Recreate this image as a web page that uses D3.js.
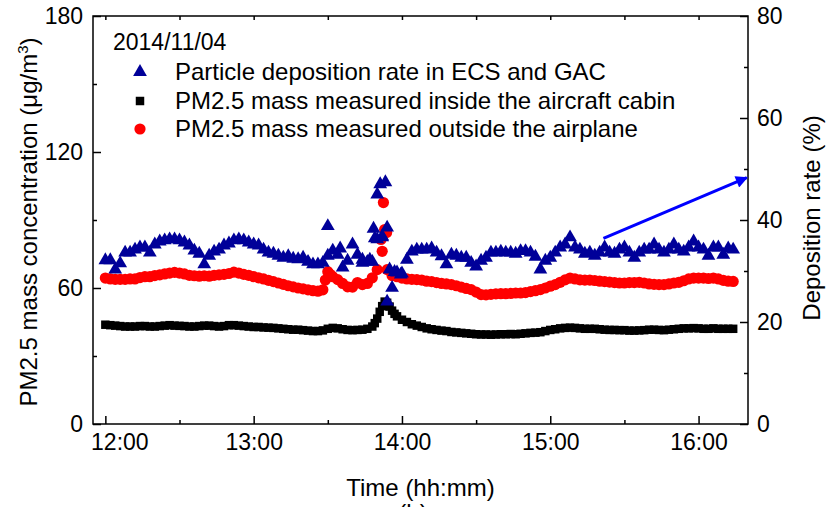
<html>
<head>
<title>PM2.5 deposition</title>
<script src="https://d3js.org/d3.v7.min.js"></script>
<style>
body { margin: 0; background: #fff; }
svg { font-family: 'Liberation Sans', Arial, sans-serif; }
</style>
</head>
<body>
<svg id="chart" width="827" height="507"></svg>
<script type="text/javascript">
// readings every 2 minutes starting 12:00
var stepMinute = 2;
var depositionRate = [32.1,32.1,30.3,31.5,33.6,33.6,34.2,34.6,34.6,33.6,
	35.2,35.8,36.0,36.2,36.2,36.0,35.6,35.0,34.0,33.4,
	31.3,33.0,33.8,34.2,35.0,35.4,36.0,36.2,36.0,35.6,
	35.2,35.0,34.2,33.6,33.4,33.0,32.6,32.9,32.4,32.3,
	32.6,31.8,31.3,31.3,31.6,33.0,34.0,33.2,30.7,32.0,
	35.2,33.2,31.6,31.8,31.8,36.2,36.6,24.0,26.7,29.7,
	29.5,32.2,33.8,34.2,34.2,34.2,34.4,33.6,32.9,31.3,
	33.2,33.0,32.6,32.6,31.6,30.9,32.0,32.6,33.6,33.6,
	33.8,33.6,33.6,33.4,33.9,33.9,33.6,32.8,30.3,32.0,
	32.6,33.6,34.6,35.2,36.6,34.6,34.2,33.4,33.6,33.0,
	33.6,34.6,33.6,33.4,34.2,34.6,33.6,32.6,33.6,34.2,
	34.2,35.2,34.2,33.6,34.2,35.2,34.2,33.8,34.6,35.8,
	34.6,34.2,33.0,34.6,34.6,33.2,34.4,34.2];
var pmInside = [43.8,43.6,43.4,43.2,43.0,43.0,43.0,43.2,43.2,43.0,
	43.0,43.2,43.4,43.6,43.4,43.3,43.2,43.0,43.0,43.2,
	43.4,43.4,43.2,43.0,43.2,43.6,43.6,43.4,43.2,43.0,
	42.8,42.8,42.6,42.5,42.4,42.2,42.0,41.8,41.6,41.6,
	41.4,41.2,41.0,41.0,41.3,42.0,42.4,42.2,41.8,41.5,
	41.4,41.5,41.6,42.0,43.0,46.5,52.0,53.5,50.0,47.5,
	46.0,45.0,44.0,43.4,42.8,42.2,41.8,41.5,41.2,41.0,
	40.6,40.4,40.2,40.0,39.8,39.6,39.5,39.5,39.4,39.5,
	39.6,39.6,39.7,39.6,39.8,40.0,40.2,40.3,40.5,41.0,
	41.5,41.8,42.2,42.4,42.5,42.4,42.2,42.0,42.0,42.0,
	41.8,41.6,41.5,41.5,41.4,41.4,41.2,41.2,41.3,41.4,
	41.6,41.6,41.5,41.4,41.6,41.8,42.0,42.2,42.2,42.3,
	42.2,42.0,42.0,42.2,42.0,42.0,42.0,42.0];
var pmOutside = [64.4,64.0,63.8,63.8,63.8,64.0,64.0,64.6,65.0,65.0,
	65.5,65.8,66.2,66.6,66.9,66.6,66.2,65.6,65.4,65.2,
	65.4,65.2,65.6,65.8,66.0,66.4,67.0,66.6,66.0,65.6,
	65.0,64.5,64.0,63.4,62.8,62.2,61.6,61.0,60.5,60.0,
	59.6,59.2,58.8,58.6,59.2,67.2,65.0,63.7,62.0,60.5,
	60.4,62.4,61.5,62.0,64.5,68.1,76.2,68.1,65.5,65.0,
	64.4,64.0,63.8,63.7,63.5,63.0,62.8,62.4,62.0,61.8,
	61.5,61.0,60.4,59.8,59.3,58.2,57.1,57.0,57.2,57.4,
	57.5,57.5,57.6,57.8,57.8,58.0,58.4,58.8,59.3,60.0,
	60.8,61.5,62.5,63.6,64.4,64.0,63.6,63.5,63.5,63.3,
	63.0,62.8,62.6,62.4,62.2,62.2,62.4,62.4,62.5,62.2,
	61.8,61.6,61.5,61.5,61.8,62.2,62.5,63.2,64.0,64.4,
	64.4,64.4,64.2,64.4,64.0,63.4,63.0,62.9];

// extra scattered readings around the 13:50 spike, [minute, value]
var depositionExtra = [[90,38.8],[95,34.4],[104,32.2],[107,32.2],[108.5,38.3],[109,36.4],
	[110,45.0],[111.2,47.0],[113.3,47.4],[112,36.8],[114,38.5],[115,30.3],[117,29.8],[119.5,29.3]];
var insideExtra = [[109,44.5],[111,49.5],[113,54.0],[115,51.8],[117,48.6]];
var outsideExtra = [[89,63.5],[91,66.0],[111.5,81.4],[112.5,97.7],[113,85.8],[113.8,84.5]];

var xTicks = [0, 60, 120, 180, 240];
var xMinor = [30, 90, 150, 210];
var xTickLabels = ["12:00", "13:00", "14:00", "15:00", "16:00"];
var leftTicks = [0, 60, 120, 180];
var leftMinor = [30, 90, 150];
var rightTicks = [0, 20, 40, 60, 80];
var rightMinor = [10, 30, 50, 70];
var arrowFrom = [201.5, 36.4];
var arrowTo = [259.5, 48.3];

var legendNames = ["Particle deposition rate in ECS and GAC",
	"PM2.5 mass measured inside the aircraft cabin",
	"PM2.5 mass measured outside the airplane"];

var plotLeft = 93, plotRight = 748, plotTop = 16, plotBottom = 424;

var svg = d3.select("#chart");

var x = d3.scaleLinear().domain([-5, 260]).range([plotLeft, plotRight]);
var yL = d3.scaleLinear().domain([0, 180]).range([plotBottom, plotTop]);
var yR = d3.scaleLinear().domain([0, 80]).range([plotBottom, plotTop]);

function toPoints(arr, extra){
	var pts = arr.map(function(v, i){ return [i * stepMinute, v]; });
	return pts.concat(extra);
}
function noDomain(g){ g.select(".domain").remove(); }

// axes, ticks pointing inside
var fmt = function(d){ return xTickLabels[xTicks.indexOf(d)]; };
svg.append("g").attr("transform", "translate(0," + plotBottom + ")")
	.call(d3.axisBottom(x).tickValues(xTicks).tickFormat(fmt).tickSize(-8).tickPadding(10)).call(noDomain);
svg.append("g").attr("transform", "translate(0," + plotBottom + ")")
	.call(d3.axisBottom(x).tickValues(xMinor).tickFormat("").tickSize(-4)).call(noDomain);
svg.append("g").attr("transform", "translate(0," + plotTop + ")")
	.call(d3.axisTop(x).tickValues(xTicks.concat(xMinor)).tickFormat("").tickSize(-4)).call(noDomain);
svg.append("g").attr("transform", "translate(" + plotLeft + ",0)")
	.call(d3.axisLeft(yL).tickValues(leftTicks).tickSize(-8).tickPadding(10)).call(noDomain);
svg.append("g").attr("transform", "translate(" + plotLeft + ",0)")
	.call(d3.axisLeft(yL).tickValues(leftMinor).tickFormat("").tickSize(-4)).call(noDomain);
svg.append("g").attr("transform", "translate(" + plotRight + ",0)")
	.call(d3.axisRight(yR).tickValues(rightTicks).tickSize(-8).tickPadding(9)).call(noDomain);
svg.append("g").attr("transform", "translate(" + plotRight + ",0)")
	.call(d3.axisRight(yR).tickValues(rightMinor).tickFormat("").tickSize(-4)).call(noDomain);

svg.selectAll(".tick line").attr("stroke", "#000").attr("stroke-width", 1.5);
svg.selectAll(".tick text").attr("fill", "#000").style("font-family", "'Liberation Sans', Arial, sans-serif").style("font-size", "23px");
// first time label sits a bit right of its tick
svg.selectAll(".tick text").filter(function(){ return this.textContent === "12:00"; }).attr("dx", 14);

svg.append("rect").attr("x", plotLeft).attr("y", plotTop)
	.attr("width", plotRight - plotLeft).attr("height", plotBottom - plotTop)
	.attr("fill", "none").attr("stroke", "#000").attr("stroke-width", 1.5);

// marks
var sq = d3.symbol().type(d3.symbolSquare).size(72);
var tri = d3.symbol().type(d3.symbolTriangle).size(82);

svg.append("g").selectAll("path").data(toPoints(pmInside, insideExtra)).enter().append("path")
	.attr("d", sq)
	.attr("transform", function(d){ return "translate(" + x(d[0]) + "," + yL(d[1]) + ")"; })
	.attr("fill", "#000");

svg.append("g").selectAll("circle").data(toPoints(pmOutside, outsideExtra)).enter().append("circle")
	.attr("cx", function(d){ return x(d[0]); })
	.attr("cy", function(d){ return yL(d[1]); })
	.attr("r", 5.6)
	.attr("fill", "#ff0000");

svg.append("g").selectAll("path").data(toPoints(depositionRate, depositionExtra)).enter().append("path")
	.attr("d", tri)
	.attr("transform", function(d){ return "translate(" + x(d[0]) + "," + yR(d[1]) + ")"; })
	.attr("fill", "#000099");

// arrow toward right axis
svg.append("defs").append("marker").attr("id", "head")
	.attr("viewBox", "0 0 10 10").attr("refX", 9).attr("refY", 5)
	.attr("markerWidth", 5).attr("markerHeight", 4).attr("orient", "auto")
	.append("path").attr("d", "M0,0L10,5L0,10z").attr("fill", "#0000ff");
svg.append("line")
	.attr("x1", x(arrowFrom[0])).attr("y1", yR(arrowFrom[1]))
	.attr("x2", x(arrowTo[0])).attr("y2", yR(arrowTo[1]))
	.attr("stroke", "#0000ff").attr("stroke-width", 3)
	.attr("marker-end", "url(#head)");

// legend
svg.append("text").attr("x", 113).attr("y", 50).style("font-size", "23px").text("2014/11/04");
var legY = [72, 101, 129];
var lg = svg.append("g");
lg.append("path").attr("d", tri).attr("transform", "translate(140," + legY[0] + ")").attr("fill", "#000099");
lg.append("path").attr("d", sq).attr("transform", "translate(140," + legY[1] + ")").attr("fill", "#000");
lg.append("circle").attr("cx", 140).attr("cy", legY[2]).attr("r", 5.6).attr("fill", "#ff0000");
lg.selectAll("text").data(legendNames).enter().append("text")
	.attr("x", 175).attr("y", function(d, i){ return legY[i] + 8; })
	.style("font-size", "24px").text(function(d){ return d; });

// axis titles
svg.append("text").attr("x", (plotLeft + plotRight) / 2).attr("y", 496)
	.attr("text-anchor", "middle").style("font-size", "24px").text("Time (hh:mm)");
var lt = svg.append("text").attr("transform", "translate(37,222) rotate(-90)")
	.attr("text-anchor", "middle").style("font-size", "24px");
lt.append("tspan").text("PM2.5 mass concentration (\u03bcg/m");
lt.append("tspan").attr("dy", -9).style("font-size", "15px").text("3");
lt.append("tspan").attr("dy", 9).text(")");
svg.append("text").attr("transform", "translate(820,218) rotate(-90)")
	.attr("text-anchor", "middle").style("font-size", "24px").text("Deposition rate (%)");
// panel letter, cut by the bottom edge as in the source figure
svg.append("text").attr("x", 413).attr("y", 521).attr("text-anchor", "middle")
	.style("font-size", "24px").text("(b)");
</script>
</body>
</html>
